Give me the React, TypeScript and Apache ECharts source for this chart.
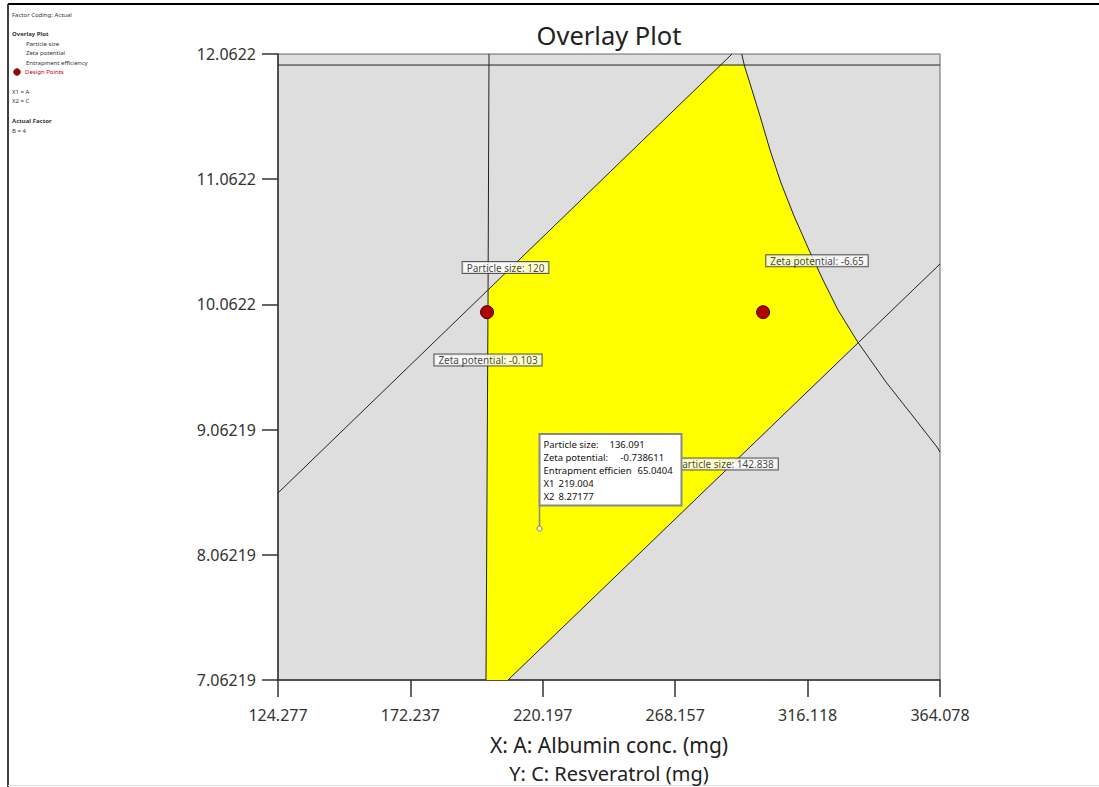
import React, { useEffect, useRef } from "react";
import * as echarts from "echarts";

// ---- axis ticks ----
const xTicks = [124.277, 172.237, 220.197, 268.157, 316.118, 364.078];
const xTickLabels = ["124.277", "172.237", "220.197", "268.157", "316.118", "364.078"];
const yTicks = [7.06219, 8.06219, 9.06219, 10.0622, 11.0622, 12.0622];
const yTickLabels = ["7.06219", "8.06219", "9.06219", "10.0622", "11.0622", "12.0622"];

// ---- contour lines (data units) ----
const zetaLow = [
  [200.71, 12.0622],
  [200.35, 10.06],
  [199.62, 7.06219],
];
const particle120 = [
  [124.277, 8.5558],
  [288.74, 12.0622],
];
const particle142 = [
  [207.59, 7.06219],
  [364.078, 10.385],
];
const zetaHigh = [
  [292.25, 12.0622],
  [293.27, 11.9664],
  [295.98, 11.7747],
  [298.88, 11.567],
  [302.5, 11.2954],
  [306.49, 11.0318],
  [311.2, 10.7683],
  [316.63, 10.4967],
  [321.7, 10.2571],
  [327.13, 10.0175],
  [334.27, 9.7619],
  [344.77, 9.4344],
  [353.94, 9.1788],
  [362.99, 8.9232],
  [364.078, 8.8833],
];
const entrapment = [
  [124.277, 11.974],
  [364.078, 11.974],
];

// ---- feasible (yellow) region corners ----
const regionTopLeft = [
  [200.53, 10.18],
  [284.61, 11.974],
  [293.1, 11.974],
];
const regionBottom = [
  [334.27, 9.7619],
  [207.59, 7.06219],
  [199.62, 7.06219],
  [200.35, 10.06],
];
const feasibleRegion = [
  ...regionTopLeft,
  ...zetaHigh.filter((p) => p[1] < 11.974 && p[1] > 9.7619),
  ...regionBottom,
];

// ---- design points ----
const designPoints = [
  [200, 10],
  [300, 10],
];

// ---- contour annotations ----
const contourLabels = [
  { name: "Particle size: 120", value: [206.69, 10.356] },
  { name: "Zeta potential: -0.103", value: [200.35, 9.618] },
  { name: "Zeta potential: -6.65", value: [319.52, 10.41] },
  { name: "Particle size: 142.838", value: [286.2, 8.7875] },
];

// ---- flag point ----
const flagPoint = [219.004, 8.27177];
const flagRows = [
  ["Particle size:", "136.091"],
  ["Zeta potential:", "-0.738611"],
  ["Entrapment efficien", "65.0404"],
  ["X1", "219.004"],
  ["X2", "8.27177"],
];

// ---- side legend ----
const sideLegend = [
  { text: "Factor Coding: Actual", indent: 0, bold: false, y: 15 },
  { text: "Overlay Plot", indent: 0, bold: true, y: 34 },
  { text: "Particle size", indent: 1, bold: false, y: 44 },
  { text: "Zeta potential", indent: 1, bold: false, y: 53 },
  { text: "Entrapment efficiency", indent: 1, bold: false, y: 63 },
  { text: "X1 = A", indent: 0, bold: false, y: 92 },
  { text: "X2 = C", indent: 0, bold: false, y: 101 },
  { text: "Actual Factor", indent: 0, bold: true, y: 121 },
  { text: "B = 4", indent: 0, bold: false, y: 131 },
];

const FONT = "Noto Sans";

const nearestLabel = (v: number, ticks: number[], labels: string[]) => {
  let best = 0;
  for (let i = 1; i < ticks.length; i++) {
    if (Math.abs(ticks[i] - v) < Math.abs(ticks[best] - v)) best = i;
  }
  return labels[best];
};

const lineSeries = (name: string, data: number[][]) => ({
  type: "line",
  name,
  data,
  showSymbol: false,
  symbol: "none",
  smooth: false,
  z: 3,
  lineStyle: { color: "#222", width: 1 },
  silent: true,
});

export default function App() {
  const ref = useRef<HTMLDivElement>(null);

  useEffect(() => {
    if (!ref.current) return;
    const chart = echarts.init(ref.current, null, { renderer: "svg" });

    const legendGraphics: any[] = sideLegend.map((l) => ({
      type: "text",
      x: l.indent ? 26 : 12,
      y: l.y,
      style: {
        text: l.text,
        fontSize: 6,
        fontWeight: l.bold ? "bold" : "normal",
        fill: "#333",
        fontFamily: FONT,
        textVerticalAlign: "middle",
      },
    }));
    legendGraphics.push({
      type: "circle",
      shape: { cx: 17, cy: 72, r: 3.3 },
      style: { fill: "#a80000", stroke: "#400", lineWidth: 0.8 },
    });
    legendGraphics.push({
      type: "text",
      x: 25,
      y: 72,
      style: {
        text: "Design Points",
        fontSize: 6,
        fill: "#c00000",
        fontFamily: FONT,
        textVerticalAlign: "middle",
      },
    });

    const option: any = {
      animation: false,
      backgroundColor: "#fff",
      grid: {
        left: 278,
        top: 54,
        width: 662,
        height: 626,
        show: true,
        backgroundColor: "#dedede",
        borderColor: "#666",
        borderWidth: 1,
      },
      xAxis: {
        type: "value",
        min: xTicks[0],
        max: xTicks[xTicks.length - 1],
        splitLine: { show: false },
        axisLine: { lineStyle: { color: "#333", width: 1.5 } },
        axisTick: {
          show: true,
          length: 17,
          customValues: xTicks,
          lineStyle: { color: "#333", width: 1.5 },
        },
        axisLabel: {
          customValues: xTicks,
          formatter: (v: number) => nearestLabel(v, xTicks, xTickLabels),
          fontSize: 16,
          color: "#333",
          margin: 27,
          fontFamily: FONT,
        },
      },
      yAxis: {
        type: "value",
        min: yTicks[0],
        max: yTicks[yTicks.length - 1],
        splitLine: { show: false },
        axisLine: { show: true, lineStyle: { color: "#333", width: 1.5 } },
        axisTick: {
          show: true,
          length: 16,
          customValues: yTicks,
          lineStyle: { color: "#333", width: 1.5 },
        },
        axisLabel: {
          customValues: yTicks,
          formatter: (v: number) => nearestLabel(v, yTicks, yTickLabels),
          fontSize: 16,
          color: "#333",
          margin: 22,
          fontFamily: FONT,
        },
      },
      series: [
        {
          type: "custom",
          name: "feasible",
          z: 1,
          silent: true,
          data: [0],
          renderItem: (_params: any, api: any) => ({
            type: "polygon",
            shape: { points: feasibleRegion.map((p) => api.coord(p)) },
            style: { fill: "#ffff00", stroke: "none" },
          }),
        },
        lineSeries("Zeta potential -0.103", zetaLow),
        lineSeries("Particle size 120", particle120),
        lineSeries("Particle size 142.838", particle142),
        lineSeries("Zeta potential -6.65", zetaHigh),
        lineSeries("Entrapment efficiency", entrapment),
        {
          type: "scatter",
          name: "Design Points",
          data: designPoints,
          symbolSize: 13,
          z: 5,
          itemStyle: { color: "#b00000", borderColor: "#400", borderWidth: 1, opacity: 1 },
        },
        {
          type: "scatter",
          name: "labels",
          data: contourLabels,
          symbolSize: 0,
          z: 6,
          silent: true,
          label: {
            show: true,
            position: "inside",
            formatter: "{b}",
            fontSize: 10,
            fontFamily: FONT,
            color: "#111",
            backgroundColor: "#fff",
            borderColor: "#333",
            borderWidth: 1,
            padding: [1, 4, 0, 4],
          },
        },
        {
          type: "custom",
          name: "flag",
          z: 10,
          silent: true,
          data: [flagPoint],
          renderItem: (_params: any, api: any) => {
            const p = api.coord([api.value(0), api.value(1)]);
            const children: any[] = [
              {
                type: "line",
                shape: { x1: p[0], y1: p[1], x2: p[0], y2: p[1] - 23 },
                style: { stroke: "#888", lineWidth: 1.5 },
              },
              {
                type: "circle",
                shape: { cx: p[0], cy: p[1], r: 2.5 },
                style: { fill: "#f2f2f2", stroke: "#777", lineWidth: 1 },
              },
              {
                type: "rect",
                shape: { x: p[0], y: p[1] - 94.5, width: 142, height: 71.5 },
                style: { fill: "#fff", stroke: "#888", lineWidth: 2 },
              },
            ];
            const valueOffsets = [70, 81, 98, 19, 19];
            const rowOffsets = [-84, -71, -58, -45, -32];
            flagRows.forEach((r, i) => {
              children.push({
                type: "text",
                x: p[0] + 4,
                y: p[1] + rowOffsets[i],
                style: {
                  text: r[0],
                  fontSize: 9.5,
                  fontFamily: FONT,
                  fill: "#111",
                  textVerticalAlign: "middle",
                },
              });
              children.push({
                type: "text",
                x: p[0] + valueOffsets[i],
                y: p[1] + rowOffsets[i],
                style: {
                  text: r[1],
                  fontSize: 9.5,
                  fontFamily: FONT,
                  fill: "#111",
                  textVerticalAlign: "middle",
                },
              });
            });
            return { type: "group", children };
          },
        },
      ],
      graphic: [
        {
          type: "line",
          shape: { x1: 8, y1: 4, x2: 1099, y2: 4 },
          style: { stroke: "#000", lineWidth: 2 },
        },
        {
          type: "line",
          shape: { x1: 8, y1: 4, x2: 8, y2: 787 },
          style: { stroke: "#000", lineWidth: 1.5 },
        },
        {
          type: "line",
          shape: { x1: 8, y1: 785.5, x2: 1099, y2: 785.5 },
          style: { stroke: "#ddd", lineWidth: 1 },
        },
        {
          type: "text",
          x: 609,
          y: 35,
          style: {
            text: "Overlay Plot",
            fontSize: 25.5,
            fontFamily: FONT,
            fill: "#222",
            textAlign: "center",
            textVerticalAlign: "middle",
          },
        },
        {
          type: "text",
          x: 609,
          y: 745,
          style: {
            text: "X: A: Albumin conc. (mg)",
            fontSize: 21,
            fontFamily: FONT,
            fill: "#222",
            textAlign: "center",
            textVerticalAlign: "middle",
          },
        },
        {
          type: "text",
          x: 609,
          y: 773,
          style: {
            text: "Y: C: Resveratrol (mg)",
            fontSize: 20,
            fontFamily: FONT,
            fill: "#222",
            textAlign: "center",
            textVerticalAlign: "middle",
          },
        },
        ...legendGraphics,
      ],
    };

    chart.setOption(option);
    return () => chart.dispose();
  }, []);

  return (
    <div
      ref={ref}
      style={{ position: "absolute", left: 0, top: 0, width: 1099, height: 787 }}
    />
  );
}
